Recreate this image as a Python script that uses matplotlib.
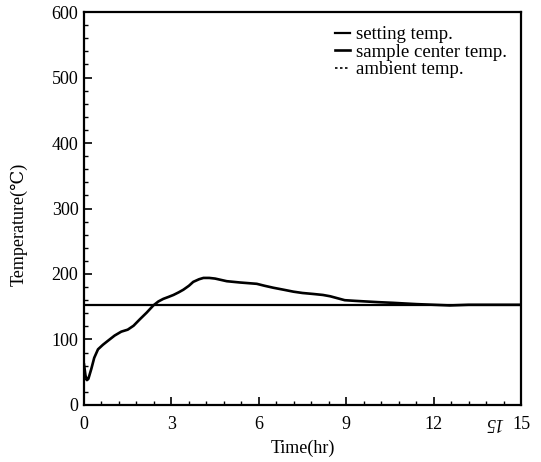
import numpy as np
import matplotlib
matplotlib.use('Agg')
import matplotlib.pyplot as plt
from matplotlib.ticker import MultipleLocator

plt.rcParams['font.family'] = ['Liberation Serif', 'DejaVu Serif']
plt.rcParams['mathtext.fontset'] = 'stix'

# sample center temperature
time_hr = [0.0, 0.05, 0.1, 0.15, 0.25, 0.35, 0.48, 0.65, 0.82, 1.05, 1.28, 1.5,
           1.7, 1.92, 2.15, 2.38, 2.55, 2.72, 2.9, 3.07, 3.25, 3.41, 3.6,
           3.75, 3.95, 4.1, 4.3, 4.5, 4.9, 5.36, 5.93, 6.2, 6.5, 6.85, 7.19,
           7.5, 7.87, 8.2, 8.45, 8.7, 8.95, 9.3, 9.7, 10.1, 10.6, 11.0, 11.42,
           12.0, 12.56, 13.2, 14.0, 15.0]
sample_temp = [62, 45, 38, 40, 55, 72, 85, 92, 98, 106, 112, 115,
               121, 131, 141, 152, 158, 162, 165, 168, 172, 176, 182,
               188, 192, 194, 194, 193, 189, 187, 185, 182, 179, 176, 173,
               171, 169.5, 168, 166, 163, 160, 159, 158, 157, 156, 155, 154,
               153, 152, 153, 153, 153]

setting_temp = 153
ambient_temp = 153

x_ticks = [0, 3, 6, 9, 12, 15]
y_ticks = [0, 100, 200, 300, 400, 500, 600]

fig = plt.figure(figsize=(5.41, 4.62), dpi=100)
ax = fig.add_axes([0.1553, 0.1234, 0.8077, 0.8506])

ax.axhline(setting_temp, color='black', lw=1.6, label='setting temp.')
ax.plot(time_hr, sample_temp, color='black', lw=1.9, label='sample center temp.')
ax.axhline(ambient_temp, color='black', lw=1.2, ls=(0, (1.5, 1.5)),
           label='ambient temp.')

ax.set_xlim(0, 15)
ax.set_ylim(0, 600)
ax.set_xticks(x_ticks)
ax.set_yticks(y_ticks)
ax.xaxis.set_minor_locator(MultipleLocator(0.6))
ax.yaxis.set_minor_locator(MultipleLocator(20))
ax.tick_params(which='major', direction='in', length=6, width=1.2,
               labelsize=13, top=False, right=False)
ax.tick_params(which='minor', direction='in', length=3, width=1.0,
               top=False, right=False)
ax.tick_params(axis='x', pad=8)
ax.tick_params(axis='y', pad=4)
for sp in ax.spines.values():
    sp.set_linewidth(1.6)

ax.set_xlabel('Time(hr)', fontsize=13, labelpad=5)
ax.set_ylabel('Temperature(℃)', fontsize=13, labelpad=17)
ax.yaxis.label.set_y(0.46)

leg = ax.legend(loc='upper right', frameon=False, fontsize=13.5,
                handlelength=0.8, handletextpad=0.3, labelspacing=0.02,
                borderaxespad=0.35)

# mirrored "15" printed in the scan
ax.text(14.1, -14, '15', rotation=180, fontsize=13, style='italic',
        ha='center', va='top', transform=ax.transData, clip_on=False)

fig.savefig('out.png', dpi=100)
